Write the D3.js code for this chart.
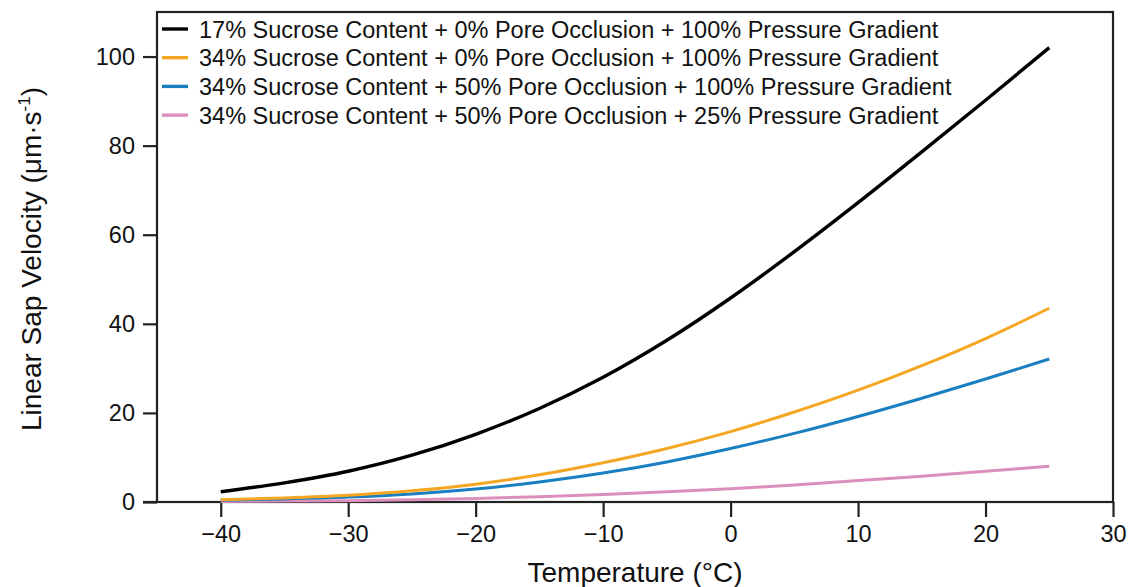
<!DOCTYPE html>
<html>
<head>
<meta charset="utf-8">
<script src="https://cdn.jsdelivr.net/npm/d3@7"></script>
<style>
  body { margin: 0; background: #fff; }
  svg text { font-family: "Liberation Sans", Arial, sans-serif; fill: #111; }
</style>
</head>
<body>
<div id="chart"></div>
<script>
// temperatures sampled along the curves (°C)
var temps = [-40, -35, -30, -25, -20, -15, -10, -5, 0, 5, 10, 15, 20, 25];

// linear sap velocity (µm/s)
var black17 = [2.3, 4.3, 6.9, 10.5, 15.2, 21.0, 28.0, 36.3, 45.8, 56.2, 67.2, 78.6, 90.2, 102.0];
var orange34 = [0.5, 0.9, 1.5, 2.5, 4.0, 6.1, 8.8, 12.0, 15.8, 20.2, 25.1, 30.6, 36.7, 43.5];
var blue34occ = [0.4, 0.7, 1.1, 1.8, 2.9, 4.5, 6.5, 9.0, 12.0, 15.4, 19.2, 23.3, 27.6, 32.1];
var pink34low = [0.1, 0.2, 0.3, 0.5, 0.8, 1.2, 1.7, 2.3, 3.0, 3.8, 4.8, 5.8, 6.9, 8.0];

var seriesNames = [
  "17% Sucrose Content + 0% Pore Occlusion + 100% Pressure Gradient",
  "34% Sucrose Content + 0% Pore Occlusion + 100% Pressure Gradient",
  "34% Sucrose Content + 50% Pore Occlusion + 100% Pressure Gradient",
  "34% Sucrose Content + 50% Pore Occlusion + 25% Pressure Gradient"
];
var seriesColors = ["#000000", "#f5a623", "#1a7fc1", "#dc8fbd"];
var seriesValues = [black17, orange34, blue34occ, pink34low];

var xTicks = [-40, -30, -20, -10, 0, 10, 20, 30];
var yTicks = [0, 20, 40, 60, 80, 100];

var W = 1131, H = 587;
var margin = {top: 12, right: 18, bottom: 85, left: 157};
var width = W - margin.left - margin.right,
    height = H - margin.top - margin.bottom;

var svg = d3.select("#chart").append("svg")
    .attr("width", W)
    .attr("height", H);

var g = svg.append("g")
    .attr("transform", "translate(" + margin.left + "," + margin.top + ")");

var x = d3.scaleLinear().domain([-45, 30]).range([0, width]);
var y = d3.scaleLinear().domain([0, 110]).range([height, 0]);

// frame
g.append("rect")
    .attr("x", 0).attr("y", 0)
    .attr("width", width).attr("height", height)
    .attr("fill", "none")
    .attr("stroke", "#222")
    .attr("stroke-width", 2.2);

var xAxis = d3.axisBottom(x).tickValues(xTicks).tickSize(15).tickPadding(8)
    .tickFormat(d3.format("d"));
var yAxis = d3.axisLeft(y).tickValues(yTicks).tickSize(14).tickPadding(8);

var gx = g.append("g")
    .attr("transform", "translate(0," + height + ")")
    .call(xAxis);
var gy = g.append("g").call(yAxis);

[gx, gy].forEach(function(a) {
  a.select(".domain").remove();
  a.selectAll(".tick line").attr("stroke", "#222").attr("stroke-width", 2.2);
  a.selectAll(".tick text").attr("font-size", 23.5).attr("fill", "#111");
});
// bottom spine runs out to the left tick
gx.append("line")
    .attr("x1", -14).attr("x2", 0)
    .attr("y1", 0).attr("y2", 0)
    .attr("stroke", "#222").attr("stroke-width", 2.2);

var line = d3.line()
    .curve(d3.curveMonotoneX)
    .x(function(d) { return x(d[0]); })
    .y(function(d) { return y(d[1]); });

// draw bottom series first so black stays on top
for (var i = seriesValues.length - 1; i >= 0; i--) {
  var pts = temps.map(function(t, j) { return [t, seriesValues[i][j]]; });
  g.append("path")
      .datum(pts)
      .attr("fill", "none")
      .attr("stroke", seriesColors[i])
      .attr("stroke-width", i == 0 ? 3.4 : 3)
      .attr("stroke-linecap", "butt")
      .attr("d", line);
}

// legend
var leg = g.append("g").attr("transform", "translate(5,17)");
seriesNames.forEach(function(name, i) {
  var row = leg.append("g").attr("transform", "translate(0," + (i * 28.7) + ")");
  row.append("line")
      .attr("x1", 0).attr("x2", 26)
      .attr("y1", 0).attr("y2", 0)
      .attr("stroke", seriesColors[i])
      .attr("stroke-width", 3.4);
  row.append("text")
      .attr("x", 37).attr("y", 8.5)
      .attr("font-size", 23.5)
      .text(name);
});

// axis titles
svg.append("text")
    .attr("x", margin.left + x(-7.5))
    .attr("y", 582)
    .attr("text-anchor", "middle")
    .attr("font-size", 28)
    .text("Temperature (°C)");

var yt = svg.append("text")
    .attr("transform", "translate(41," + (margin.top + height / 2 + 2) + ") rotate(-90)")
    .attr("text-anchor", "middle")
    .attr("font-size", 28);
yt.append("tspan").text("Linear Sap Velocity (μm·s");
yt.append("tspan").attr("font-size", 17).attr("dy", -11).text("-1");
yt.append("tspan").attr("dy", 11).text(")");
</script>
</body>
</html>
